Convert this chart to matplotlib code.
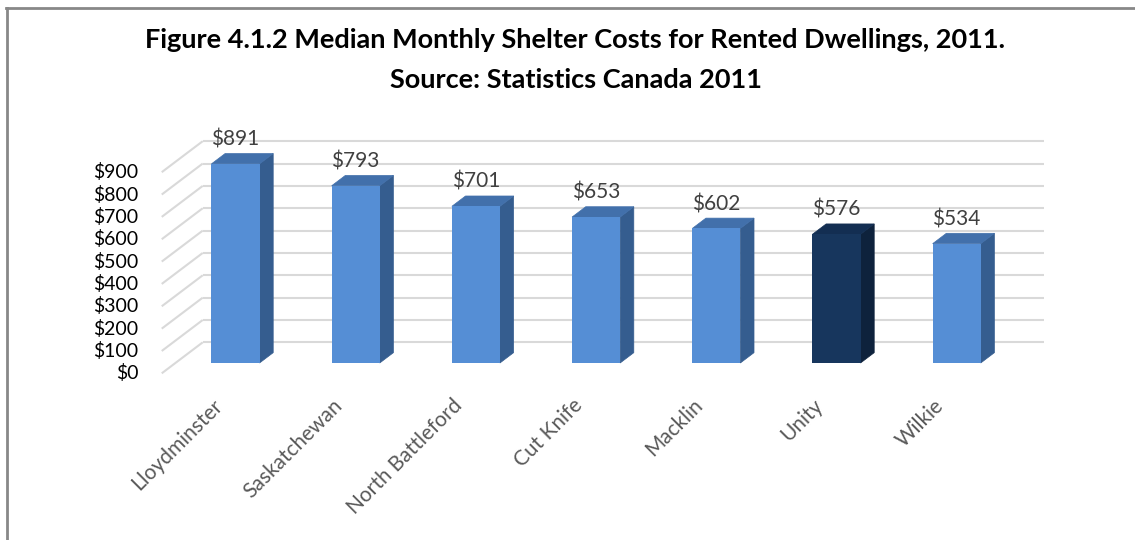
import matplotlib
matplotlib.use("Agg")
import matplotlib.pyplot as plt
from matplotlib.patches import Polygon
from matplotlib.lines import Line2D

# ---- data ----
categories = ["Lloydminster", "Saskatchewan", "North Battleford", "Cut Knife",
              "Macklin", "Unity", "Wilkie"]
values = [891, 793, 701, 653, 602, 576, 534]
value_labels = ["$891", "$793", "$701", "$653", "$602", "$576", "$534"]
highlight = [False, False, False, False, False, True, False]
yticks = [0, 100, 200, 300, 400, 500, 600, 700, 800, 900]
ytick_labels = ["$0", "$100", "$200", "$300", "$400", "$500", "$600",
                "$700", "$800", "$900"]
title_lines = ["Figure 4.1.2 Median Monthly Shelter Costs for Rented Dwellings, 2011.",
               "Source: Statistics Canada 2011"]

# ---- styling ----
W, H = 1135, 540
DPI = 100
FONT = ["Lato", "DejaVu Sans"]
plt.rcParams["font.family"] = FONT

normal_cols = dict(front="#558ED5", side="#355D8F", top="#4270AB")
hi_cols = dict(front="#17365D", side="#0E223C", top="#132E52")

# pixel geometry of the oblique projection
PX_PER_CAT = 120.2
PX_PER_VAL = 0.2235
DEPTH_X = 41 / PX_PER_CAT      # full depth offset in category units
DEPTH_Y = 31 / PX_PER_VAL      # full depth offset in value units
BAR_D0, BAR_D1 = 1 / 3, 2 / 3  # bar occupies middle third of depth
BAR_W = 0.4


def proj(x, y, d):
    """Oblique projection: d = depth (0 front, 1 back); bars front face at d=1/3."""
    return (x + (d - BAR_D0) * DEPTH_X, y + (d - BAR_D0) * DEPTH_Y)


fig = plt.figure(figsize=(W / DPI, H / DPI), dpi=DPI)
ax = fig.add_axes([0, 0, 1, 1])
x0_px, y0_px = 235.5, 363.0
ax.set_xlim(-x0_px / PX_PER_CAT, (W - x0_px) / PX_PER_CAT)
ax.set_ylim((y0_px - H) / PX_PER_VAL, y0_px / PX_PER_VAL)
ax.axis("off")

n = len(categories)
xl, xr = -0.5, n - 0.5
grid_col = "#D9D9D9"

# back wall and left side wall gridlines
for t, tl in zip(yticks, ytick_labels):
    bx0, by = proj(xl, t, 1)
    bx1, _ = proj(xr, t, 1)
    ax.plot([bx0, bx1], [by, by], color=grid_col, lw=1.5, zorder=1,
            solid_capstyle="butt")
    fx, fy = proj(xl, t, 0)
    ax.plot([fx, bx0], [fy, by], color=grid_col, lw=1.5, zorder=1,
            solid_capstyle="butt")
    ax.text(fx - 23 / PX_PER_CAT, fy, tl, ha="right", va="center",
            fontsize=14, color="#000000")

# bars (front via ax.bar, side/top as projected polygons)
xs = list(range(n))
for x, v, h in zip(xs, values, highlight):
    c = hi_cols if h else normal_cols
    xa, xb = x - BAR_W / 2, x + BAR_W / 2
    side = [proj(xb, 0, BAR_D0), proj(xb, 0, BAR_D1),
            proj(xb, v, BAR_D1), proj(xb, v, BAR_D0)]
    top = [proj(xa, v, BAR_D0), proj(xb, v, BAR_D0),
           proj(xb, v, BAR_D1), proj(xa, v, BAR_D1)]
    ax.add_patch(Polygon(side, closed=True, facecolor=c["side"],
                         edgecolor=c["side"], lw=0.5, zorder=3))
    ax.add_patch(Polygon(top, closed=True, facecolor=c["top"],
                         edgecolor=c["top"], lw=0.5, zorder=3))
ax.bar(xs, values, width=BAR_W,
       color=[hi_cols["front"] if h else normal_cols["front"] for h in highlight],
       edgecolor="none", zorder=4)

# value labels
for x, v, lab in zip(xs, values, value_labels):
    _, ty = proj(x, v, BAR_D1)
    ax.text(x, ty + 8 / PX_PER_VAL, lab, ha="center", va="baseline",
            fontsize=15, color="#404040", zorder=5)

# category labels
for x, lab in zip(xs, categories):
    lx, ly = proj(x, 0, 0)
    ax.text(lx - 10 / PX_PER_CAT, ly - 22 / PX_PER_VAL, lab, rotation=45,
            rotation_mode="anchor", ha="right", va="top", fontsize=15,
            color="#595959")

# title
fig.text(575 / W, 1 - 40 / H, title_lines[0], ha="center", va="center",
         fontsize=19.5, fontweight="bold", color="#000000")
fig.text(576 / W, 1 - 80 / H, title_lines[1], ha="center", va="center",
         fontsize=19.5, fontweight="bold", color="#000000")

# outer frame (top and left edges visible)
fig.add_artist(Line2D([6.5 / W, 6.5 / W], [0, 1 - 7.5 / H], transform=fig.transFigure,
                      color="#888888", lw=2))
fig.add_artist(Line2D([5.5 / W, 1], [1 - 7.5 / H, 1 - 7.5 / H], transform=fig.transFigure,
                      color="#888888", lw=2))

fig.savefig("out.png", dpi=DPI, facecolor="white")
